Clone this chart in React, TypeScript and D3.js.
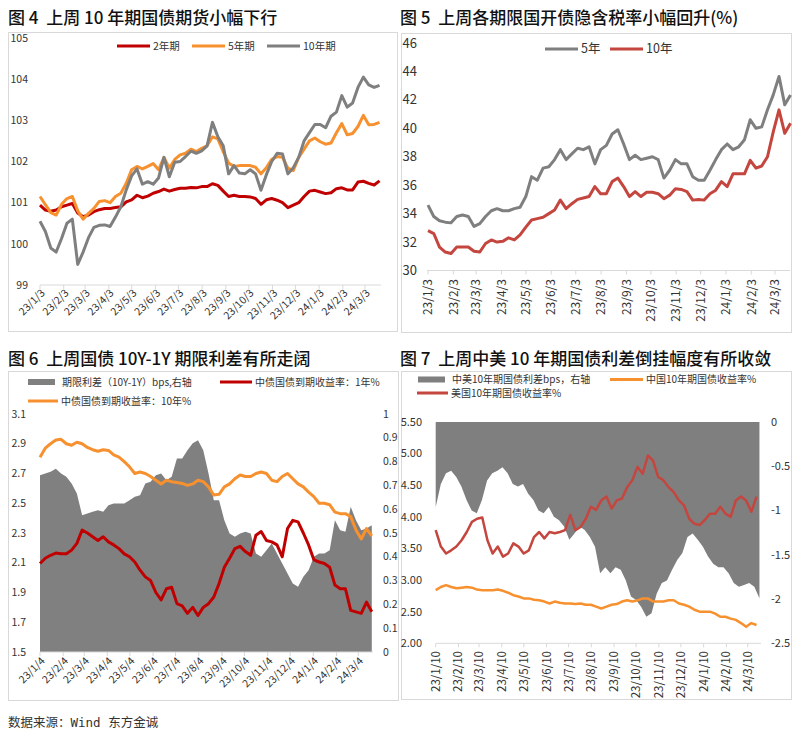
import React from 'react';
import * as d3 from 'd3';

const FONT = "'Noto Sans CJK SC', 'Noto Sans', sans-serif";

// ---------------- Fig 4 : treasury futures ----------------
const fig4Title = '图 4  上周 10 年期国债期货小幅下行';
const fig4Range = ['23/1/3', '24/3/22'];
const fig4TickLabels = ['23/1/3', '23/2/3', '23/3/3', '23/4/3', '23/5/3', '23/6/3', '23/7/3', '23/8/3', '23/9/3', '23/10/3', '23/11/3', '23/12/3', '24/1/3', '24/2/3', '24/3/3'];
const fig4YTicks = [99, 100, 101, 102, 103, 104, 105];
const fig4Names = ['2年期', '5年期', '10年期'];
const fut2Y = [100.94, 100.82, 100.79, 100.82, 100.9, 100.94, 100.98, 100.75, 100.66, 100.7,
  100.78, 100.83, 100.86, 100.86, 100.88, 100.9, 101.02, 101.07, 101.18, 101.12,
  101.16, 101.23, 101.27, 101.33, 101.28, 101.32, 101.35, 101.35, 101.37, 101.36,
  101.39, 101.39, 101.46, 101.42, 101.28, 101.15, 101.18, 101.15, 101.15, 101.14,
  101.1, 100.96, 101.07, 101.1, 101.06, 101.0, 100.88, 100.94, 101.0, 101.15,
  101.28, 101.3, 101.26, 101.22, 101.24, 101.34, 101.36, 101.31, 101.31, 101.5,
  101.52, 101.47, 101.43, 101.53];
const fut5Y = [101.15, 100.95, 100.76, 100.7, 100.96, 101.1, 101.15, 100.8, 100.6, 100.74,
  100.86, 101.03, 101.05, 101.0, 101.15, 101.23, 101.47, 101.8, 101.88, 101.82,
  101.88, 101.95, 101.8, 102.1, 101.84, 102.05, 102.16, 102.2, 102.3, 102.24,
  102.32, 102.38, 102.6, 102.55, 102.24, 101.96, 101.88, 101.9, 101.9, 101.9,
  101.86, 101.7, 101.85, 102.05, 102.12, 102.1, 101.84, 101.78, 102.1, 102.3,
  102.5, 102.57, 102.48, 102.42, 102.45, 102.7, 102.92, 102.65, 102.68, 102.85,
  103.12, 102.89, 102.9, 102.95];
const fut10Y = [100.55, 100.3, 99.9, 99.8, 100.13, 100.5, 100.6, 99.5, 99.8, 100.15,
  100.4, 100.45, 100.46, 100.42, 100.65, 100.9, 101.31, 101.65, 101.82, 101.45,
  101.51, 101.45, 101.6, 102.1, 101.63, 101.98, 102.0, 102.12, 102.25, 102.2,
  102.26, 102.38, 102.95, 102.6, 102.38, 101.7, 101.9, 101.72, 101.7, 101.8,
  101.7, 101.3, 101.68, 102.0, 102.2, 102.18, 101.7, 101.85, 102.1, 102.5,
  102.7, 102.9, 102.9, 102.82, 103.1, 103.2, 103.6, 103.32, 103.42, 103.8,
  104.05, 103.86, 103.8, 103.85];

// ---------------- Fig 5 : implied tax rate ----------------
const fig5Title = '图 5  上周各期限国开债隐含税率小幅回升(%)';
const fig5Range = ['23/1/3', '24/3/22'];
const fig5TickLabels = fig4TickLabels;
const fig5YTicks = [30, 32, 34, 36, 38, 40, 42, 44, 46];
const fig5Names = ['5年', '10年'];
const tax5Y = [34.6, 33.8, 33.5, 33.4, 33.35, 33.8, 33.9, 33.8, 33.1, 33.3,
  33.8, 34.2, 34.35, 34.2, 34.2, 34.35, 34.45, 35.2, 36.6, 36.35,
  37.2, 37.3, 37.8, 38.5, 37.8, 38.2, 38.6, 38.5, 38.7, 37.5,
  38.5, 38.8, 39.6, 39.9, 38.9, 37.8, 38.1, 37.8, 37.9, 38.0,
  37.8, 36.5, 37.05, 37.8, 37.5, 37.5, 36.6, 36.35, 36.35, 37.05,
  37.8, 38.5, 38.9, 38.5, 38.7, 39.2, 40.6, 40.0, 40.1, 41.3,
  42.35, 43.65, 41.65, 42.35];
const tax10Y = [32.8, 32.6, 31.65, 31.3, 31.2, 31.65, 31.65, 31.65, 31.35, 31.3,
  31.9, 32.15, 32.0, 32.05, 32.3, 32.15, 32.5, 33.05, 33.55, 33.65,
  33.75, 34.0, 34.25, 34.95, 34.35, 34.7, 35.0, 35.1, 35.2, 35.9,
  35.4, 35.4, 36.25, 36.5, 35.9, 35.2, 35.55, 35.2, 35.5, 35.5,
  35.4, 35.05, 35.3, 35.75, 35.7, 35.55, 34.95, 35.0, 34.95, 35.4,
  35.65, 36.25, 35.9, 36.8, 36.8, 36.8, 37.75, 37.2, 37.35, 38.0,
  39.75, 41.3, 39.65, 40.35];

// ---------------- Fig 6 : 10Y-1Y term spread ----------------
const fig6Title = '图 6  上周国债 10Y-1Y 期限利差有所走阔';
const fig6Range = ['23/1/4', '24/3/22'];
const fig6TickLabels = ['23/1/4', '23/2/4', '23/3/4', '23/4/4', '23/5/4', '23/6/4', '23/7/4', '23/8/4', '23/9/4', '23/10/4', '23/11/4', '23/12/4', '24/1/4', '24/2/4', '24/3/4'];
const fig6LeftTicks = [1.5, 1.7, 1.9, 2.1, 2.3, 2.5, 2.7, 2.9, 3.1];
const fig6RightTicks = [0, 0.1, 0.2, 0.3, 0.4, 0.5, 0.6, 0.7, 0.8, 0.9, 1];
const fig6Names = ['期限利差（10Y-1Y）bps,右轴', '中债国债到期收益率：1年%', '中债国债到期收益率：10年%'];
const termSpread = [0.743, 0.75, 0.757, 0.77, 0.75, 0.736, 0.708, 0.666, 0.575, 0.582,
  0.589, 0.596, 0.589, 0.617, 0.624, 0.624, 0.624, 0.638, 0.652, 0.659,
  0.708, 0.715, 0.743, 0.75, 0.722, 0.736, 0.813, 0.813, 0.848, 0.877,
  0.89, 0.848, 0.75, 0.638, 0.638, 0.554, 0.498, 0.484, 0.498, 0.505,
  0.498, 0.414, 0.40, 0.428, 0.456, 0.414, 0.372, 0.33, 0.288, 0.274,
  0.316, 0.344, 0.40, 0.414, 0.414, 0.428, 0.554, 0.512, 0.505, 0.61,
  0.554, 0.512, 0.519, 0.533];
const ylds1Y = [2.095, 2.13, 2.15, 2.165, 2.16, 2.16, 2.185, 2.23, 2.32, 2.30,
  2.275, 2.25, 2.275, 2.24, 2.22, 2.195, 2.16, 2.14, 2.105, 2.05,
  2.005, 1.98, 1.90, 1.85, 1.925, 1.935, 1.825, 1.81, 1.76, 1.80,
  1.745, 1.80, 1.825, 1.87, 1.96, 2.07, 2.13, 2.195, 2.21, 2.175,
  2.15, 2.285, 2.31, 2.25, 2.24, 2.22, 2.14, 2.33, 2.385, 2.375,
  2.30, 2.22, 2.12, 2.105, 2.095, 2.07, 1.95, 1.925, 1.925, 1.78,
  1.77, 1.76, 1.835, 1.77];
const ylds10Y = [2.81, 2.87, 2.90, 2.925, 2.93, 2.90, 2.89, 2.91, 2.90, 2.875,
  2.86, 2.85, 2.86, 2.855, 2.825, 2.81, 2.78, 2.745, 2.70, 2.71,
  2.70, 2.68, 2.655, 2.63, 2.655, 2.645, 2.64, 2.633, 2.62, 2.63,
  2.655, 2.645, 2.61, 2.555, 2.56, 2.61, 2.63, 2.665, 2.69, 2.68,
  2.68, 2.70, 2.71, 2.70, 2.655, 2.645, 2.68, 2.70, 2.665, 2.63,
  2.61, 2.575, 2.545, 2.50, 2.50, 2.49, 2.44, 2.43, 2.43, 2.41,
  2.32, 2.26, 2.33, 2.28];

// ---------------- Fig 7 : China-US 10Y spread ----------------
const fig7Title = '图 7  上周中美 10 年期国债利差倒挂幅度有所收敛';
const fig7LineRange = ['23/1/10', '24/3/22'];
const fig7AreaRange = ['23/1/10', '24/3/26'];
const fig7TickLabels = ['23/1/10', '23/2/10', '23/3/10', '23/4/10', '23/5/10', '23/6/10', '23/7/10', '23/8/10', '23/9/10', '23/10/10', '23/11/10', '23/12/10', '24/1/10', '24/2/10', '24/3/10'];
const fig7LeftTicks = [2.0, 2.5, 3.0, 3.5, 4.0, 4.5, 5.0, 5.5];
const fig7RightTicks = [0, -0.5, -1, -1.5, -2, -2.5];
const fig7Names = ['中美10年期国债利差bps，右轴', '中国10年期国债收益率%', '美国10年期国债收益率%'];
const cnUsSpread = [-0.96, -0.70, -0.58, -0.55, -0.62, -0.73, -0.88, -1.0, -1.03, -0.88,
  -0.66, -0.58, -0.55, -0.51, -0.58, -0.70, -0.73, -0.70, -0.81, -0.88,
  -1.0, -1.03, -0.96, -1.07, -1.11, -1.18, -1.33, -1.26, -1.18, -1.22,
  -1.30, -1.41, -1.71, -1.64, -1.71, -1.64, -1.67, -1.79, -1.97, -2.01,
  -2.09, -2.20, -2.16, -1.94, -1.82, -1.79, -1.67, -1.56, -1.48, -1.30,
  -1.26, -1.33, -1.41, -1.52, -1.60, -1.64, -1.64, -1.71, -1.82, -1.86,
  -1.84, -1.82, -1.86, -1.99];
const cn10Y = [2.84, 2.89, 2.92, 2.89, 2.87, 2.88, 2.89, 2.88, 2.85, 2.84,
  2.84, 2.84, 2.85, 2.83, 2.80, 2.76, 2.74, 2.71, 2.71, 2.69,
  2.68, 2.66, 2.63, 2.66, 2.64, 2.63, 2.63, 2.62, 2.63, 2.61,
  2.61, 2.58, 2.55, 2.58, 2.61, 2.62, 2.66, 2.68, 2.66, 2.68,
  2.71, 2.71, 2.66, 2.66, 2.66, 2.68, 2.68, 2.63, 2.61, 2.58,
  2.53, 2.50, 2.50, 2.50, 2.47, 2.42, 2.42, 2.39, 2.37, 2.32,
  2.26, 2.32, 2.29];
const us10Y = [3.79, 3.53, 3.42, 3.47, 3.53, 3.63, 3.76, 3.92, 3.97, 3.99,
  3.63, 3.42, 3.53, 3.37, 3.42, 3.58, 3.53, 3.42, 3.47, 3.68,
  3.76, 3.66, 3.76, 3.74, 3.76, 3.79, 4.03, 3.79, 3.84, 3.97,
  4.16, 4.11, 4.26, 4.32, 4.13, 4.26, 4.29, 4.47, 4.58, 4.79,
  4.68, 4.97, 4.89, 4.63, 4.58, 4.47, 4.39, 4.26, 4.18, 3.97,
  3.89, 3.87, 3.95, 4.05, 4.05, 4.16, 4.05, 4.0, 4.26, 4.32,
  4.26, 4.08, 4.32];

const sourceText = '数据来源：Wind 东方金诚';

// ---------------- helpers ----------------
const C_RED = '#C00000';
const C_RED2 = '#C4463F';
const C_ORANGE = '#F7912F';
const C_GRAY = '#7F7F7F';
const C_AXIS = '#D9D9D9';
const C_TEXT = '#333333';

const parseTick = (s: string) => {
  const [y, m, d] = s.split('/').map(Number);
  return new Date(2000 + y, m - 1, d);
};
const spanDates = (range: string[], n: number) => {
  const a = parseTick(range[0]).getTime();
  const b = parseTick(range[1]).getTime();
  return d3.range(n).map((i) => new Date(a + ((b - a) * i) / (n - 1)));
};

function XAxis({ x, ticks, y, x0, x1, rot, fs, ly }: any) {
  return (
    <g>
      <line x1={x0} x2={x1} y1={y} y2={y} stroke={C_AXIS} strokeWidth={1} />
      {ticks.map((t: string) => {
        const px = x(parseTick(t));
        return (
          <g key={t}>
            <line x1={px} x2={px} y1={y} y2={y + 4} stroke={C_AXIS} />
            {rot === -45 ? (
              <text transform={`translate(${px + 3},${ly}) rotate(-45)`} textAnchor="end" dy="0.35em" fontSize={fs} fill={C_TEXT} fontFamily={FONT}>{t}</text>
            ) : (
              <text transform={`translate(${px},${ly}) rotate(-90)`} textAnchor="end" dy="0.35em" fontSize={fs} fill={C_TEXT} fontFamily={FONT}>{t}</text>
            )}
          </g>
        );
      })}
    </g>
  );
}

function YLabels({ y, ticks, x, anchor, fs, fmt }: any) {
  return (
    <g>
      {ticks.map((t: number) => (
        <text key={t} x={x} y={y(t)} dy="0.35em" textAnchor={anchor} fontSize={fs} fill={C_TEXT} fontFamily={FONT}>{fmt ? fmt(t) : String(t)}</text>
      ))}
    </g>
  );
}

function LegLine({ x, y, w, color, label, fs, sw = 3 }: any) {
  return (
    <g>
      <line x1={x} x2={x + w} y1={y} y2={y} stroke={color} strokeWidth={sw} />
      <text x={x + w + 3} y={y} dy="0.35em" fontSize={fs} fill={C_TEXT} fontFamily={FONT}>{label}</text>
    </g>
  );
}
function LegRect({ x, y, w, color, label, fs }: any) {
  return (
    <g>
      <rect x={x} y={y - 3} width={w} height={6} fill={color} />
      <text x={x + w + 7} y={y} dy="0.35em" fontSize={fs} fill={C_TEXT} fontFamily={FONT}>{label}</text>
    </g>
  );
}

export default function App() {
  // ----- Fig 4 -----
  const d4 = spanDates(fig4Range, fut10Y.length);
  const x4 = d3.scaleTime().domain([parseTick('23/1/3'), parseTick('24/3/3')]).range([40, 365]);
  const y4 = d3.scaleLinear().domain([99, 105]).range([285, 38]);
  const l4 = d3.line<number>().x((_, i) => x4(d4[i])).y((v) => y4(v)).curve(d3.curveLinear);

  // ----- Fig 5 -----
  const d5 = spanDates(fig5Range, tax5Y.length);
  const x5 = d3.scaleTime().domain([parseTick('23/1/3'), parseTick('24/3/3')]).range([428, 775]);
  const y5 = d3.scaleLinear().domain([30, 46]).range([270.5, 43]);
  const l5 = d3.line<number>().x((_, i) => x5(d5[i])).y((v) => y5(v));

  // ----- Fig 6 -----
  const d6 = spanDates(fig6Range, ylds10Y.length);
  const x6 = d3.scaleTime().domain([parseTick('23/1/4'), parseTick('24/3/4')]).range([40, 358.3]);
  const yL6 = d3.scaleLinear().domain([1.5, 3.1]).range([652, 414]);
  const yR6 = d3.scaleLinear().domain([0, 1]).range([652, 414]);
  const l6 = d3.line<number>().x((_, i) => x6(d6[i])).y((v) => yL6(v));
  const a6 = d3.area<number>().x((_, i) => x6(d6[i])).y0(yR6(0)).y1((v) => yR6(v));

  // ----- Fig 7 -----
  const d7 = spanDates(fig7LineRange, cn10Y.length);
  const d7a = spanDates(fig7AreaRange, cnUsSpread.length);
  const x7 = d3.scaleTime().domain([parseTick('23/1/10'), parseTick('24/3/10')]).range([435.7, 747.7]);
  const yL7 = d3.scaleLinear().domain([2, 5.5]).range([643.3, 422]);
  const yR7 = d3.scaleLinear().domain([-2.5, 0]).range([643.3, 422]);
  const l7 = d3.line<number>().x((_, i) => x7(d7[i])).y((v) => yL7(v));
  const a7 = d3.area<number>().x((_, i) => x7(d7a[i])).y0(yR7(0)).y1((v) => yR7(v));

  const titleStyle = { fontSize: 17, fill: '#111', fontFamily: FONT, fontWeight: 500, style: { whiteSpace: 'pre' } } as any;

  return (
    <svg width={800} height={736} style={{ position: 'absolute', left: 0, top: 0, background: '#fff' }}>
      <rect x={0} y={0} width={800} height={736} fill="#fff" />

      {/* ===== Fig 4 ===== */}
      <text x={8} y={24} {...titleStyle}>{fig4Title}</text>
      <rect x={8.5} y={32.5} width={389} height={299} fill="none" stroke={C_AXIS} />
      <YLabels y={y4} ticks={fig4YTicks} x={28} anchor="end" fs={10.5} />
      <XAxis x={x4} ticks={fig4TickLabels} y={285} x0={40} x1={381} rot={-45} fs={10.5} ly={291} />
      <path d={l4(fut2Y) || ''} fill="none" stroke={C_RED} strokeWidth={3} strokeLinejoin="round" />
      <path d={l4(fut5Y) || ''} fill="none" stroke={C_ORANGE} strokeWidth={3} strokeLinejoin="round" />
      <path d={l4(fut10Y) || ''} fill="none" stroke={C_GRAY} strokeWidth={3} strokeLinejoin="round" />
      <LegLine x={117} y={46} w={33} color={C_RED} label={fig4Names[0]} fs={10.5} />
      <LegLine x={192} y={46} w={33} color={C_ORANGE} label={fig4Names[1]} fs={10.5} />
      <LegLine x={267} y={46} w={33} color={C_GRAY} label={fig4Names[2]} fs={10.5} />

      {/* ===== Fig 5 ===== */}
      <text x={400} y={24} {...titleStyle}>{fig5Title}</text>
      <rect x={401.5} y={33.5} width={390} height={299} fill="none" stroke={C_AXIS} />
      <YLabels y={y5} ticks={fig5YTicks} x={417} anchor="end" fs={13} />
      <XAxis x={x5} ticks={fig5TickLabels} y={270.5} x0={427} x1={790} rot={-90} fs={12} ly={279} />
      <path d={l5(tax5Y) || ''} fill="none" stroke={C_GRAY} strokeWidth={3} strokeLinejoin="round" />
      <path d={l5(tax10Y) || ''} fill="none" stroke={C_RED2} strokeWidth={3} strokeLinejoin="round" />
      <LegLine x={545} y={49} w={33} color={C_GRAY} label={fig5Names[0]} fs={12.5} />
      <LegLine x={610} y={49} w={33} color={C_RED2} label={fig5Names[1]} fs={12.5} />

      {/* ===== Fig 6 ===== */}
      <text x={8} y={365} {...titleStyle}>{fig6Title}</text>
      <rect x={8.5} y={371.5} width={390} height={329} fill="none" stroke={C_AXIS} />
      <path d={a6(termSpread) || ''} fill="#808080" />
      <YLabels y={yL6} ticks={fig6LeftTicks} x={26} anchor="end" fs={10.5} fmt={(v: number) => v.toFixed(1)} />
      <YLabels y={yR6} ticks={fig6RightTicks} x={383} anchor="start" fs={10.5} fmt={(v: number) => String(+v.toFixed(1))} />
      <XAxis x={x6} ticks={fig6TickLabels} y={652} x0={40} x1={373} rot={-45} fs={10.5} ly={659} />
      <path d={l6(ylds10Y) || ''} fill="none" stroke={C_ORANGE} strokeWidth={3} strokeLinejoin="round" />
      <path d={l6(ylds1Y) || ''} fill="none" stroke={C_RED} strokeWidth={3} strokeLinejoin="round" />
      <LegRect x={28} y={382} w={27} color="#808080" label={fig6Names[0]} fs={10} />
      <LegLine x={220} y={382} w={32} color={C_RED} label={fig6Names[1]} fs={10} />
      <LegLine x={28} y={401} w={30} color={C_ORANGE} label={fig6Names[2]} fs={10} />

      {/* ===== Fig 7 ===== */}
      <text x={400} y={365} {...titleStyle}>{fig7Title}</text>
      <rect x={401.5} y={371.5} width={390} height={328} fill="none" stroke={C_AXIS} />
      <path d={a7(cnUsSpread) || ''} fill="#7F7F7F" />
      <YLabels y={yL7} ticks={fig7LeftTicks} x={422} anchor="end" fs={11} fmt={(v: number) => v.toFixed(2)} />
      <YLabels y={yR7} ticks={fig7RightTicks} x={771} anchor="start" fs={11} />
      <XAxis x={x7} ticks={fig7TickLabels} y={643.3} x0={436} x1={761} rot={-90} fs={11.5} ly={651} />
      <path d={l7(us10Y) || ''} fill="none" stroke={C_RED2} strokeWidth={2.5} strokeLinejoin="round" />
      <path d={l7(cn10Y) || ''} fill="none" stroke={C_ORANGE} strokeWidth={2.5} strokeLinejoin="round" />
      <LegRect x={418} y={379.5} w={27} color="#7F7F7F" label={fig7Names[0]} fs={10} />
      <LegLine x={610} y={379.5} w={33} color={C_ORANGE} label={fig7Names[1]} fs={10} />
      <LegLine x={417} y={393} w={31} color={C_RED2} label={fig7Names[2]} fs={10} />

      {/* source */}
      <text x={8} y={727} fontSize={12.5} fill={C_TEXT} fontFamily={"'DejaVu Sans Mono', 'Noto Sans CJK SC', monospace"} style={{ whiteSpace: 'pre' }}>{sourceText}</text>
    </svg>
  );
}
